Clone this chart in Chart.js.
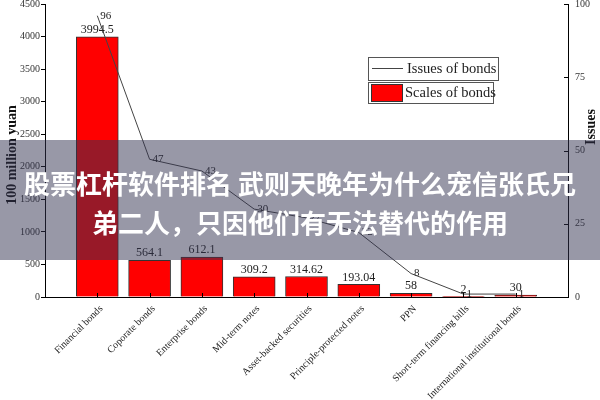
<!DOCTYPE html>
<html>
<head>
<meta charset="utf-8">
<script src="https://cdn.jsdelivr.net/npm/chart.js@4.4.0/dist/chart.umd.min.js"></script>
<style>
    html, body { margin: 0; padding: 0; background: #fff; }
    #wrap { position: relative; width: 600px; height: 400px; }
    #chart { display: block; }
    #banner {
        position: absolute; left: 0; top: 140px; width: 600px; height: 120px;
        box-sizing: border-box; padding-top: 23px;
        background: rgba(50, 50, 80, 0.5);
        color: #fff; text-align: center;
        font: bold 26px "Noto Sans CJK SC", sans-serif; line-height: 39px;
    }
</style>
</head>
<body>
<div id="wrap">
    <canvas id="chart" width="600" height="400"></canvas>
    <div id="banner">股票杠杆软件排名 武则天晚年为什么宠信张氏兄<br>弟二人，只因他们有无法替代的作用</div>
</div>
<script>
// Data
const categories = [
    'Financial bonds', 'Coporate bonds', 'Enterprise bonds', 'Mid-term notes',
    'Asset-backed securities', 'Principle-protected notes', 'PPN',
    'Short-term financing bills', 'International institutional bonds'
];
const scaleValues = [3994.5, 564.1, 612.1, 309.2, 314.62, 193.04, 58, 2, 30];
const issueValues = [96, 47, 43, 30, 27, 22, 8, 1, 1];
const scaleAxis = { min: 0, max: 4500, step: 500, title: '100 million yuan' };
const issueAxis = { min: 0, max: 100, step: 25, title: 'Issues' };

const serif = '"Liberation Serif", "Times New Roman", serif';

// one empty slot each side, like the original plot
const pad = (arr) => [null, ...arr, null];

const decor = {
    id: 'decor',
    afterDatasetsDraw(chart) {
        const ctx = chart.ctx;
        const area = chart.chartArea;
        ctx.save();

        // value labels on bars
        ctx.font = '12px ' + serif;
        ctx.fillStyle = '#222';
        ctx.textAlign = 'center';
        ctx.textBaseline = 'bottom';
        chart.getDatasetMeta(0).data.forEach((bar, i) => {
            const v = chart.data.datasets[0].data[i];
            if (v == null) return;
            ctx.fillText(String(v), bar.x, bar.y - 1);
        });

        // value labels on line
        ctx.font = '11px ' + serif;
        ctx.textAlign = 'left';
        ctx.textBaseline = 'middle';
        chart.getDatasetMeta(1).data.forEach((pt, i) => {
            const v = chart.data.datasets[1].data[i];
            if (v == null) return;
            ctx.fillText(String(v), pt.x + 3, pt.y);
        });

        // inward ticks: bottom and right
        ctx.strokeStyle = '#000';
        ctx.lineWidth = 1;
        ctx.beginPath();
        chart.getDatasetMeta(0).data.forEach((bar, i) => {
            if (chart.data.datasets[0].data[i] == null) return;
            const x = Math.round(bar.x) + 0.5;
            ctx.moveTo(x, area.bottom);
            ctx.lineTo(x, area.bottom - 4);
        });
        chart.scales.y1.ticks.forEach((t) => {
            const y = Math.round(chart.scales.y1.getPixelForValue(t.value)) + 0.5;
            ctx.moveTo(area.right, y);
            ctx.lineTo(area.right - 4, y);
        });
        ctx.stroke();
        ctx.restore();
    },
    afterDraw(chart) {
        const ctx = chart.ctx;
        ctx.save();

        // axis titles
        ctx.font = 'bold 14px ' + serif;
        ctx.fillStyle = '#111';
        ctx.textAlign = 'center';
        ctx.textBaseline = 'middle';
        ctx.translate(12, 155);
        ctx.rotate(-Math.PI / 2);
        ctx.fillText(scaleAxis.title, 0, 0);
        ctx.setTransform(1, 0, 0, 1, 0, 0);
        ctx.translate(591, 127);
        ctx.rotate(-Math.PI / 2);
        ctx.fillText(issueAxis.title, 0, 0);
        ctx.setTransform(1, 0, 0, 1, 0, 0);

        // legend
        const ds = chart.data.datasets;
        ctx.strokeStyle = '#555';
        ctx.lineWidth = 1;
        ctx.strokeRect(368.5, 57.5, 130, 23);
        ctx.strokeRect(368.5, 82.5, 125, 21);
        ctx.beginPath();
        ctx.moveTo(372, 68.5);
        ctx.lineTo(403, 68.5);
        ctx.strokeStyle = ds[1].borderColor;
        ctx.stroke();
        ctx.fillStyle = ds[0].backgroundColor;
        ctx.fillRect(371, 84, 32, 18);
        ctx.strokeStyle = ds[0].borderColor;
        ctx.strokeRect(371.5, 84.5, 31, 17);
        ctx.font = '14.5px ' + serif;
        ctx.fillStyle = '#222';
        ctx.textAlign = 'left';
        ctx.textBaseline = 'middle';
        ctx.fillText(ds[1].label, 407, 69);
        ctx.fillText(ds[0].label, 405, 93);
        ctx.restore();
    }
};

new Chart(document.getElementById('chart'), {
    type: 'bar',
    data: {
        labels: ['', ...categories, ''],
        datasets: [
            {
                type: 'bar',
                label: 'Scales of bonds',
                data: pad(scaleValues),
                yAxisID: 'y',
                backgroundColor: '#ff0000',
                borderColor: '#333',
                borderWidth: 1,
                barThickness: 42,
                order: 1
            },
            {
                type: 'line',
                label: 'Issues of bonds',
                data: pad(issueValues),
                yAxisID: 'y1',
                borderColor: '#444',
                borderWidth: 1,
                pointRadius: 0,
                tension: 0,
                fill: false,
                order: 0
            }
        ]
    },
    options: {
        responsive: false,
        animation: false,
        devicePixelRatio: 1,
        layout: { padding: { top: 4, left: 0, right: 0, bottom: 0 } },
        plugins: {
            legend: { display: false },
            tooltip: { enabled: false }
        },
        scales: {
            x: {
                offset: false,
                grid: { drawOnChartArea: false, drawTicks: false },
                border: { display: true, color: '#000', width: 1 },
                ticks: {
                    autoSkip: false,
                    minRotation: 45,
                    maxRotation: 45,
                    padding: 6,
                    labelOffset: 4,
                    color: '#222',
                    font: { family: serif, size: 10 }
                },
                afterFit(s) {
                    s.height = 103;
                    s.paddingLeft = 0;
                    s.paddingRight = 0;
                }
            },
            y: {
                position: 'left',
                min: scaleAxis.min,
                max: scaleAxis.max,
                grid: { drawOnChartArea: false, drawTicks: true, tickLength: 4, color: '#000' },
                border: { display: true, color: '#000', width: 1 },
                ticks: {
                    stepSize: scaleAxis.step,
                    padding: 1,
                    color: '#333',
                    font: { family: serif, size: 10 },
                    callback: (v) => String(v)
                },
                afterFit(s) {
                    s.width = 45;
                    s.paddingTop = 0;
                    s.paddingBottom = 0;
                }
            },
            y1: {
                position: 'right',
                min: issueAxis.min,
                max: issueAxis.max,
                grid: { drawOnChartArea: false, drawTicks: false },
                border: { display: true, color: '#000', width: 1 },
                ticks: {
                    stepSize: issueAxis.step,
                    padding: 7,
                    color: '#333',
                    font: { family: serif, size: 10 },
                    callback: (v) => String(v)
                },
                afterFit(s) {
                    s.width = 32;
                    s.paddingTop = 0;
                    s.paddingBottom = 0;
                }
            }
        }
    },
    plugins: [decor]
});
</script>
</body>
</html>
